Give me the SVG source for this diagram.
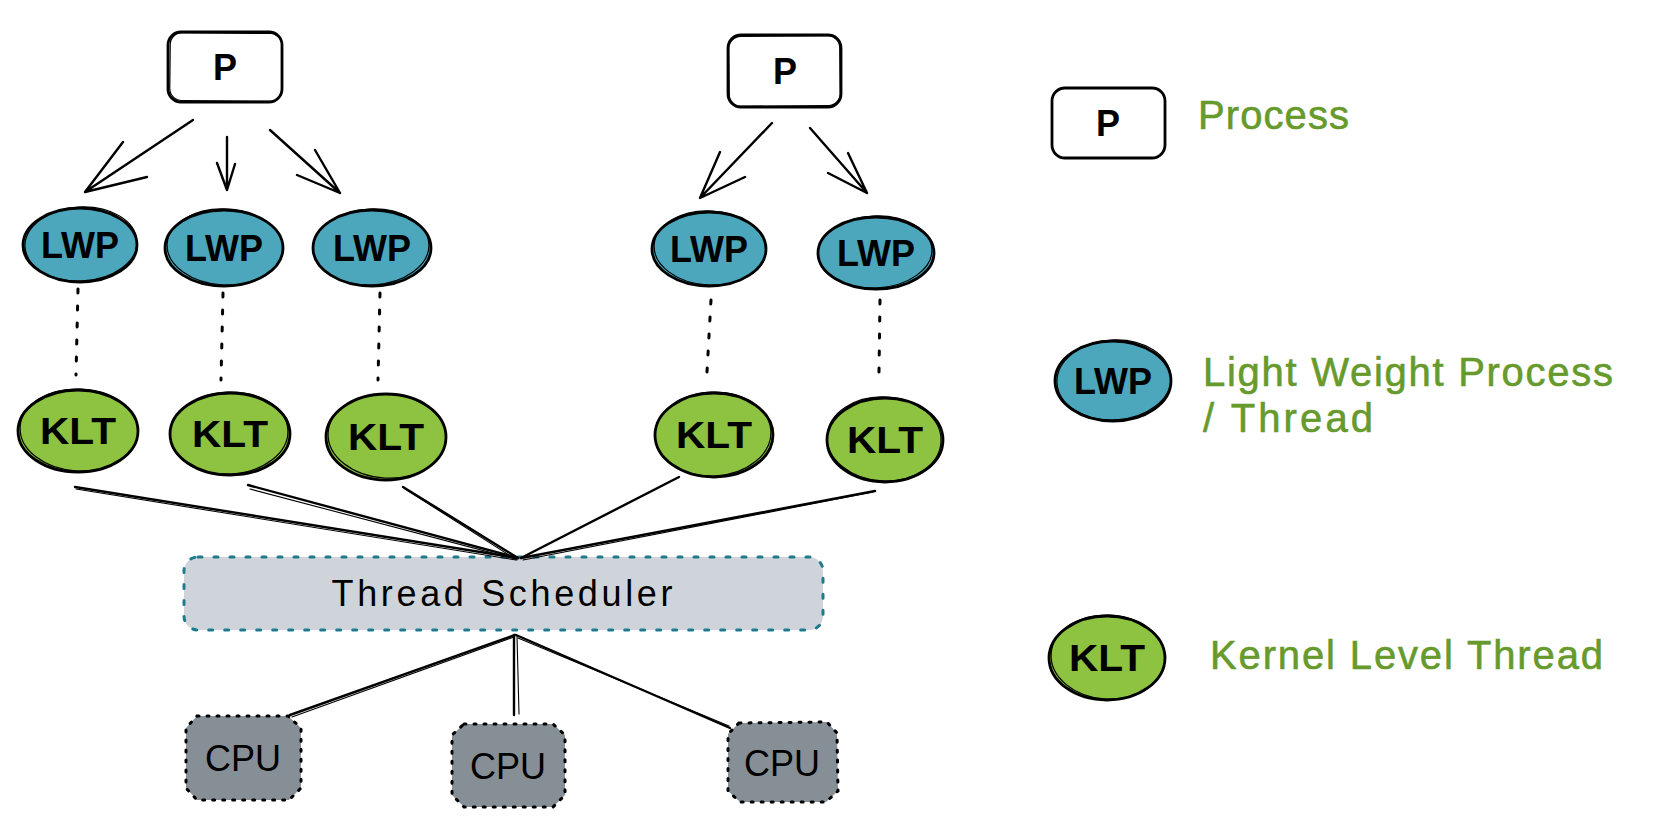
<svg xmlns="http://www.w3.org/2000/svg" width="1658" height="828" viewBox="0 0 1658 828">
<style>
.bg{fill:#ffffff}
.lwp{fill:#4ca7bd}
.klt{fill:#8dc340}
.pbox{fill:#ffffff}
.ol{fill:none;stroke:#000;stroke-width:2.8}
.ol2{fill:none;stroke:#000;stroke-width:1.2}
.lbl{font-family:"Liberation Sans",Arial,sans-serif;font-weight:bold;font-size:36px;text-anchor:middle;fill:#000}
.lbln{font-family:"Liberation Sans",Arial,sans-serif;font-size:36px;text-anchor:middle;fill:#000}
.cpu{fill:#868e96;stroke:#000;stroke-width:3;stroke-dasharray:2 8;stroke-linecap:round}
.sched{fill:#ced4da;stroke:#1f7a8c;stroke-width:3;stroke-dasharray:4 12;stroke-linecap:round}
.dot{stroke:#000;stroke-width:3;stroke-dasharray:4 13;stroke-linecap:round;fill:none}
.edge{stroke:#000;stroke-width:2.4;fill:none;stroke-linecap:round;stroke-linejoin:round}
.edge2{stroke:#000;stroke-width:1.1;fill:none;stroke-linecap:round}
.leg{font-family:"Liberation Sans",Arial,sans-serif;font-size:40px;fill:#679a2c;stroke:#679a2c;stroke-width:0.6}
</style>
<rect class="bg" x="0" y="0" width="1658" height="828"/>

<g id="p1">
<rect class="pbox" x="168" y="32" width="114" height="70" rx="13"/>
<rect class="ol" x="168" y="32" width="114" height="70" rx="13"/>
<rect class="ol2" x="170" y="33" width="112" height="68" rx="12" transform="rotate(0.6 225 67)"/>
<text class="lbl" x="225" y="80">P</text>
</g>
<g id="p2">
<rect class="pbox" x="728" y="35" width="113" height="72" rx="13"/>
<rect class="ol" x="728" y="35" width="113" height="72" rx="13"/>
<rect class="ol2" x="729" y="36" width="111" height="70" rx="12" transform="rotate(-0.6 785 71)"/>
<text class="lbl" x="785" y="84">P</text>
</g>

<g id="lwp1">
<ellipse class="lwp" cx="80" cy="245" rx="57" ry="37"/>
<ellipse class="ol" cx="80" cy="245" rx="57" ry="37"/>
<ellipse class="ol2" cx="81" cy="244" rx="56" ry="37" transform="rotate(-3 80 245)"/>
<text class="lbl" x="80" y="258" textLength="78" lengthAdjust="spacingAndGlyphs">LWP</text>
</g>
<g id="lwp2">
<ellipse class="lwp" cx="224" cy="248" rx="59" ry="38"/>
<ellipse class="ol" cx="224" cy="248" rx="59" ry="38"/>
<ellipse class="ol2" cx="225" cy="247" rx="58" ry="38" transform="rotate(3 224 248)"/>
<text class="lbl" x="224" y="261" textLength="78" lengthAdjust="spacingAndGlyphs">LWP</text>
</g>
<g id="lwp3">
<ellipse class="lwp" cx="372" cy="248" rx="59" ry="38"/>
<ellipse class="ol" cx="372" cy="248" rx="59" ry="38"/>
<ellipse class="ol2" cx="371" cy="247" rx="58" ry="38" transform="rotate(-3 372 248)"/>
<text class="lbl" x="372" y="261" textLength="78" lengthAdjust="spacingAndGlyphs">LWP</text>
</g>
<g id="lwp4">
<ellipse class="lwp" cx="709" cy="249" rx="57" ry="37"/>
<ellipse class="ol" cx="709" cy="249" rx="57" ry="37"/>
<ellipse class="ol2" cx="710" cy="248" rx="56" ry="37" transform="rotate(3 709 249)"/>
<text class="lbl" x="709" y="262" textLength="78" lengthAdjust="spacingAndGlyphs">LWP</text>
</g>
<g id="lwp5">
<ellipse class="lwp" cx="876" cy="253" rx="58" ry="36"/>
<ellipse class="ol" cx="876" cy="253" rx="58" ry="36"/>
<ellipse class="ol2" cx="875" cy="252" rx="57" ry="36" transform="rotate(-3 876 253)"/>
<text class="lbl" x="876" y="266" textLength="78" lengthAdjust="spacingAndGlyphs">LWP</text>
</g>

<g id="klt1">
<ellipse class="klt" cx="78" cy="431" rx="60" ry="41"/>
<ellipse class="ol" cx="78" cy="431" rx="60" ry="41"/>
<ellipse class="ol2" cx="79" cy="430" rx="59" ry="41" transform="rotate(3 78 431)"/>
<text class="lbl" x="78" y="444" textLength="76" lengthAdjust="spacingAndGlyphs">KLT</text>
</g>
<g id="klt2">
<ellipse class="klt" cx="230" cy="434" rx="60" ry="41"/>
<ellipse class="ol" cx="230" cy="434" rx="60" ry="41"/>
<ellipse class="ol2" cx="229" cy="433" rx="59" ry="41" transform="rotate(-3 230 434)"/>
<text class="lbl" x="230" y="447" textLength="76" lengthAdjust="spacingAndGlyphs">KLT</text>
</g>
<g id="klt3">
<ellipse class="klt" cx="386" cy="437" rx="60" ry="43"/>
<ellipse class="ol" cx="386" cy="437" rx="60" ry="43"/>
<ellipse class="ol2" cx="387" cy="436" rx="59" ry="42" transform="rotate(3 386 437)"/>
<text class="lbl" x="386" y="450" textLength="76" lengthAdjust="spacingAndGlyphs">KLT</text>
</g>
<g id="klt4">
<ellipse class="klt" cx="714" cy="435" rx="59" ry="42"/>
<ellipse class="ol" cx="714" cy="435" rx="59" ry="42"/>
<ellipse class="ol2" cx="713" cy="434" rx="58" ry="42" transform="rotate(-3 714 435)"/>
<text class="lbl" x="714" y="448" textLength="76" lengthAdjust="spacingAndGlyphs">KLT</text>
</g>
<g id="klt5">
<ellipse class="klt" cx="885" cy="440" rx="58" ry="42"/>
<ellipse class="ol" cx="885" cy="440" rx="58" ry="42"/>
<ellipse class="ol2" cx="884" cy="439" rx="57" ry="42" transform="rotate(3 885 440)"/>
<text class="lbl" x="885" y="453" textLength="76" lengthAdjust="spacingAndGlyphs">KLT</text>
</g>

<g id="scheduler">
<rect class="sched" x="184" y="557" width="639" height="73" rx="14"/>
<text class="lbln" x="502" y="606" textLength="341" lengthAdjust="spacing">Thread Scheduler</text>
</g>

<g id="cpu1">
<path class="cpu" d="M197,716 L288,716 L301,728 L301,788 L289,800 L197,800 L186,788 L186,728 Z"/>
<text class="lbln" x="243" y="771" font-size="38">CPU</text>
</g>
<g id="cpu2">
<path class="cpu" d="M464,724 L553,724 L565,735 L565,795 L553,807 L464,807 L452,795 L452,735 Z"/>
<text class="lbln" x="508" y="779" font-size="38">CPU</text>
</g>
<g id="cpu3">
<path class="cpu" d="M739,723 L827,722 L837,733 L838,791 L826,802 L740,802 L728,791 L728,734 Z"/>
<text class="lbln" x="782" y="776" font-size="38">CPU</text>
</g>

<g id="legend-process">
<rect class="pbox" x="1052" y="88" width="113" height="70" rx="13"/>
<rect class="ol" x="1052" y="88" width="113" height="70" rx="13"/>
<text class="lbl" x="1108" y="136" font-size="33">P</text>
<text class="leg" x="1198" y="129" textLength="151" lengthAdjust="spacing">Process</text>
</g>
<g id="legend-lwp">
<ellipse class="lwp" cx="1113" cy="381" rx="58" ry="40"/>
<ellipse class="ol" cx="1113" cy="381" rx="58" ry="40"/>
<ellipse class="ol2" cx="1114" cy="380" rx="57" ry="40" transform="rotate(-3 1113 381)"/>
<text class="lbl" x="1113" y="394" textLength="78" lengthAdjust="spacingAndGlyphs">LWP</text>
<text class="leg" x="1203" y="386" textLength="410" lengthAdjust="spacing">Light Weight Process</text>
<text class="leg" x="1203" y="432" textLength="170" lengthAdjust="spacing">/ Thread</text>
</g>
<g id="legend-klt">
<ellipse class="klt" cx="1107" cy="658" rx="58" ry="42"/>
<ellipse class="ol" cx="1107" cy="658" rx="58" ry="42"/>
<ellipse class="ol2" cx="1108" cy="657" rx="57" ry="42" transform="rotate(3 1107 658)"/>
<text class="lbl" x="1107" y="671" textLength="76" lengthAdjust="spacingAndGlyphs">KLT</text>
<text class="leg" x="1210" y="669" textLength="393" lengthAdjust="spacing">Kernel Level Thread</text>
</g>

<g id="connectors">
<path class="edge" d="M193,120 L85,192 M123,142 L85,192 L147,177"/>
<path class="edge" d="M227,137 L227,190 M217,163 L227,190 L235,164"/>
<path class="edge" d="M270,130 L340,193 M315,150 L340,193 L297,175"/>
<path class="edge" d="M772,123 L700,198 M720,152 L700,198 L745,177"/>
<path class="edge" d="M810,128 L867,193 M848,153 L867,193 L828,173"/>
<line class="dot" x1="78" y1="289" x2="76" y2="375"/>
<line class="dot" x1="223" y1="293" x2="221" y2="380"/>
<line class="dot" x1="380" y1="293" x2="378" y2="380"/>
<line class="dot" x1="711" y1="300" x2="707" y2="372"/>
<line class="dot" x1="880" y1="300" x2="879" y2="372"/>
<path class="edge" d="M75,487 L518,558"/>
<path class="edge2" d="M76,489 L516,560"/>
<path class="edge" d="M248,485 L518,558"/>
<path class="edge2" d="M250,489 L515,559"/>
<path class="edge" d="M403,487 L518,558"/>
<path class="edge2" d="M405,489 L517,560"/>
<path class="edge" d="M679,477 L521,558"/>
<path class="edge" d="M875,491 L521,558"/>
<path class="edge2" d="M873,492 L523,560"/>
<path class="edge" d="M515,635 L290,715"/>
<path class="edge2" d="M514,637 L292,717"/>
<path class="edge" d="M514,635 L514,715"/>
<path class="edge2" d="M517,636 L519,714"/>
<path class="edge" d="M516,635 L730,728"/>
<path class="edge2" d="M518,638 L729,726"/>
</g>
</svg>
